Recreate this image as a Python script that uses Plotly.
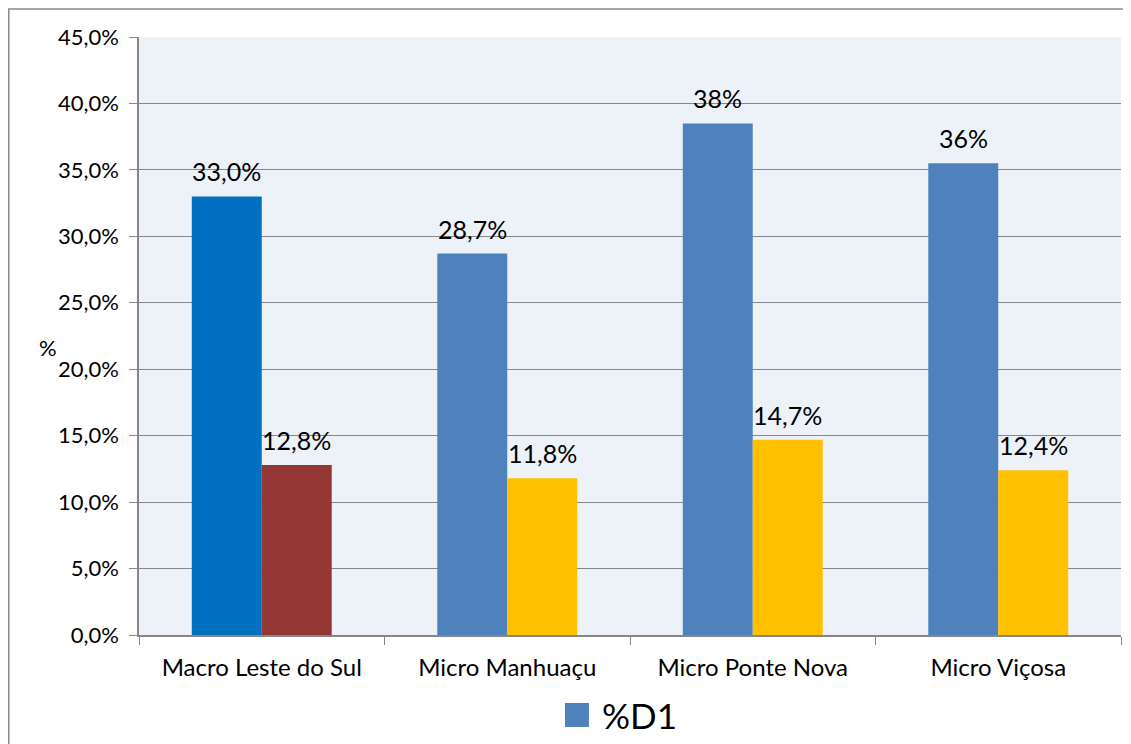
import plotly.graph_objects as go

categories = ["Macro Leste do Sul", "Micro Manhuaçu", "Micro Ponte Nova", "Micro Viçosa"]
d1_values = [33.0, 28.7, 38.5, 35.5]
d1_labels = ["33,0%", "28,7%", "38%", "36%"]
d2_values = [12.8, 11.8, 14.7, 12.4]
d2_labels = ["12,8%", "11,8%", "14,7%", "12,4%"]
d1_colors = ["#0070C0", "#4F81BD", "#4F81BD", "#4F81BD"]
d2_colors = ["#943634", "#FFC000", "#FFC000", "#FFC000"]
legend_name = "%D1"

FONT = "Lato"
GRID = "#878787"

fig = go.Figure()
fig.add_trace(go.Bar(x=categories, y=[v / 100 for v in d1_values], name=legend_name,
                     marker=dict(color=d1_colors, line_width=0)))
fig.add_trace(go.Bar(x=categories, y=[v / 100 for v in d2_values], name="%D2",
                     marker=dict(color=d2_colors, line_width=0)))

# data labels above each bar
for cat, v, lab in zip(categories, d1_values, d1_labels):
    fig.add_annotation(x=cat, y=v / 100, text=lab, showarrow=False, xshift=-35,
                       yanchor="bottom", yshift=8, font=dict(size=25, color="#000"))
for cat, v, lab in zip(categories, d2_values, d2_labels):
    fig.add_annotation(x=cat, y=v / 100, text=lab, showarrow=False, xshift=35,
                       yanchor="bottom", yshift=8, font=dict(size=25, color="#000"))

# y axis title, horizontal
fig.add_annotation(x=-0.0927, y=0.48, xref="paper", yref="paper", text="%",
                   showarrow=False, xanchor="center", yanchor="middle",
                   font=dict(size=22, color="#000"))

# legend drawn by hand so the key square can be as big as in the original
fig.add_shape(type="rect", xref="paper", yref="paper", x0=0.4338, x1=0.4582,
              y0=-0.1538, y1=-0.1137, fillcolor=d1_colors[1], line_width=0)
fig.add_annotation(x=0.4695, y=-0.1338, xref="paper", yref="paper", text=legend_name,
                   showarrow=False, xanchor="left", yanchor="middle",
                   font=dict(size=35, color="#000"))

# outer chart frame
fig.add_shape(type="rect", xref="paper", yref="paper", x0=-0.1326, y0=-0.3,
              x1=1.1, y1=1.0468, line=dict(color="#8a8a8a", width=1.5))

fig.update_layout(
    width=1131, height=744,
    margin=dict(l=131, r=18, t=29, b=117, autoexpand=False),
    barmode="group", bargap=0.43, bargroupgap=0,
    separators=",.",
    paper_bgcolor="white", plot_bgcolor="#EDF2F9",
    font=dict(family=FONT, size=22, color="#000"),
    showlegend=False,
)
fig.update_yaxes(range=[0, 0.45], dtick=0.05, tickformat=".1%",
                 showgrid=True, gridcolor=GRID, gridwidth=1.3,
                 showline=True, linecolor=GRID, linewidth=1.5,
                 ticks="outside", ticklen=8, tickcolor=GRID,
                 zeroline=False, ticklabelstandoff=6, tickfont=dict(size=22))
fig.update_xaxes(showline=True, linecolor=GRID, linewidth=1.5,
                 ticks="outside", tickson="boundaries", ticklen=8, tickcolor=GRID,
                 ticklabelstandoff=10, tickfont=dict(size=24))

fig.write_html("out.html")
